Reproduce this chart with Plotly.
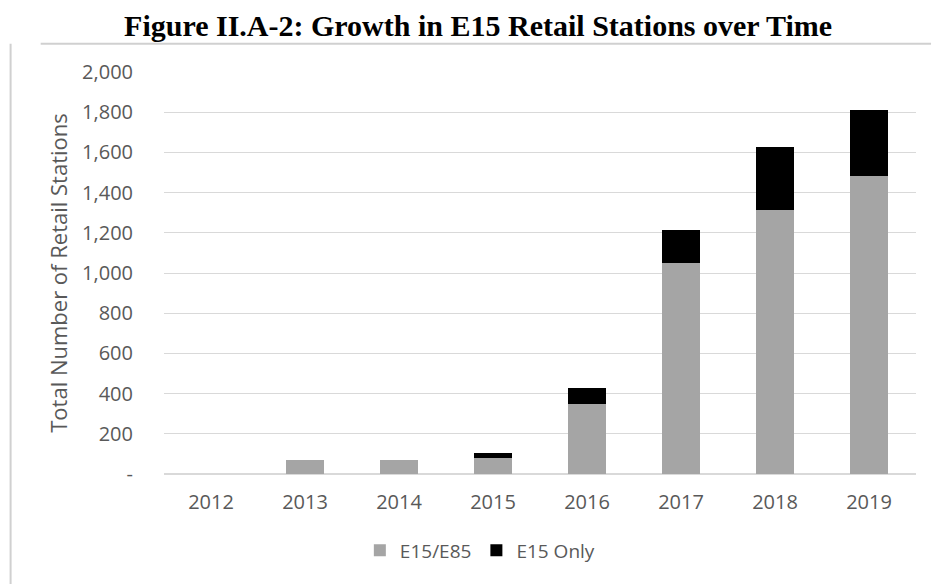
import plotly.graph_objects as go

years = ["2012", "2013", "2014", "2015", "2016", "2017", "2018", "2019"]
e15_e85 = [0, 70, 70, 78, 350, 1050, 1315, 1485]
e15_only = [0, 0, 0, 25, 78, 163, 310, 325]
y_ticks = [0, 200, 400, 600, 800, 1000, 1200, 1400, 1600, 1800, 2000]
y_tick_text = ["-", "200", "400", "600", "800", "1,000", "1,200", "1,400", "1,600", "1,800", "2,000"]

fig = go.Figure()
fig.add_trace(go.Bar(x=years, y=e15_e85, name="E15/E85", marker=dict(color="#A5A5A5", line=dict(width=0))))
fig.add_trace(go.Bar(x=years, y=e15_only, name="E15 Only", marker=dict(color="#000000", line=dict(width=0))))

tick_font = dict(family="Open Sans", size=20, color="#595959")

fig.update_layout(
    barmode="stack",
    bargap=0.6,
    width=932, height=584,
    margin=dict(l=164, r=16, t=72, b=110),
    paper_bgcolor="white", plot_bgcolor="white",
    title=dict(text="<b>Figure II.A-2: Growth in E15 Retail Stations over Time</b>",
               font=dict(family="Liberation Serif", size=30, color="#000000"),
               x=0.513, xanchor="center", y=0.956, yanchor="middle"),
    legend=dict(orientation="h", x=0.42, xanchor="center", y=-0.19, yanchor="middle",
                font=dict(family="Open Sans", size=19, color="#595959"),
                itemwidth=30, traceorder="normal"),
    xaxis=dict(type="category", tickfont=tick_font, showgrid=False, showline=False,
               ticks="outside", ticklen=10, tickcolor="rgba(0,0,0,0)"),
    yaxis=dict(range=[0, 2000], tickvals=y_ticks, ticktext=y_tick_text, tickfont=tick_font,
               showgrid=True, gridcolor="#D9D9D9", gridwidth=1, zeroline=True, zerolinecolor="#D9D9D9",
               ticks="outside", ticklen=26, tickcolor="rgba(0,0,0,0)",
               title=dict(text="Total Number of Retail Stations",
                          font=dict(family="Open Sans", size=22, color="#595959"), standoff=8)),
    showlegend=True,
    shapes=[
        dict(type="line", xref="paper", yref="paper", x0=-0.164, x1=1.02, y0=1.07, y1=1.07,
             line=dict(color="#D0D0D0", width=2)),
        dict(type="line", xref="paper", yref="paper", x0=-0.204, x1=-0.204, y0=1.07, y1=-0.28,
             line=dict(color="#D0D0D0", width=2)),
    ],
)

fig.write_html("out.html")
